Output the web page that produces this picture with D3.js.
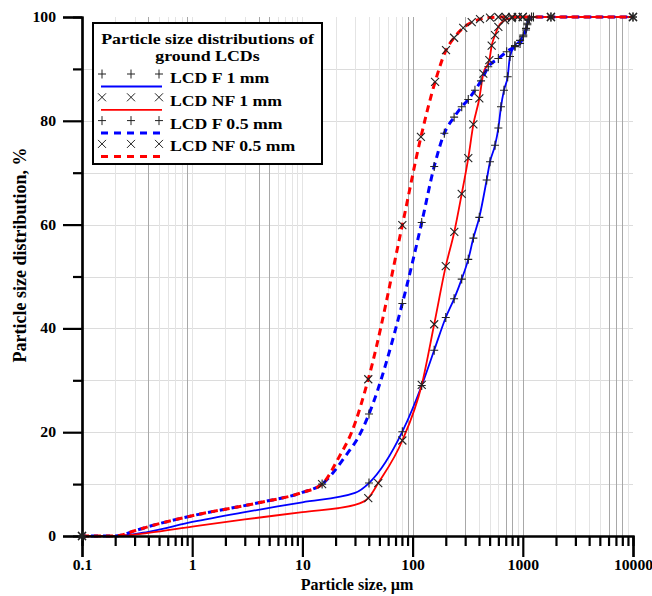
<!DOCTYPE html>
<html><head><meta charset="utf-8">
<script src="https://cdn.jsdelivr.net/npm/d3@7/dist/d3.min.js"></script>
<style>
body{margin:0;background:#fff}
svg{display:block}
text{font-family:"Liberation Serif","Times New Roman",serif;font-weight:bold;fill:#000}
</style>
</head><body>
<svg id="chart" width="652" height="596"></svg>
<script>
// ---------- data ----------
const xTickValues = [0.1, 1, 10, 100, 1000, 10000];
const xTickLabels = ["0.1", "1", "10", "100", "1000", "10000"];
const yTickValues = [0, 20, 40, 60, 80, 100];
const yMinorValues = [10, 30, 50, 70, 90];
const yGridValues = [10, 20, 30, 40, 50, 60, 70, 80, 90];
const darkGridValues = [0.4, 0.9, 4, 5, 90, 100, 300, 700, 800, 1000, 6000, 7000, 8000];

const seriesNames = ["LCD F 1 mm", "LCD NF 1 mm", "LCD F 0.5 mm", "LCD NF 0.5 mm"];
const seriesColors = ["#0000ff", "#ff0000", "#0000ff", "#ff0000"];
const seriesDashed = [false, false, true, true];
const seriesMarker = ["plus", "cross", "plus", "cross"];

// curve points: [particle size µm, cumulative %]
const curveF1 = [[0.1,0],[0.2,0],[0.4,0.8],[1,2.7],[3,4.6],[10,6.5],[30,8.3],[40.2,10.2],[80.7,20.1],[121,29.0],[157,35.8],[200,42.1],[238,45.7],[279,49.5],[320,53.3],[356,57.4],[403,61.4],[470,68.6],[504,72.1],[560,75.3],[600,78.6],[634,82.7],[675,85.9],[729,88.5],[765,92.4],[849,94.5],[944,95.5],[1010,96.5],[1070,97.8],[1100,98.8],[1150,99.6],[1250,100],[1800,100],[10000,100]];
const markF1 = [[0.1,0],[40.2,10.2],[80.7,20.1],[121,29.0],[157,35.8],[200,42.1],[238,45.7],[279,49.5],[320,53.3],[356,57.4],[403,61.4],[470,68.6],[504,72.1],[560,75.3],[600,78.6],[634,82.7],[675,85.9],[729,88.5],[765,92.4],[849,94.5],[944,95.5],[1010,96.5],[1070,97.8],[1100,98.8],[1150,99.6],[1250,100],[1800,100],[10000,100]];

const curveNF1 = [[0.1,0],[0.2,0],[0.4,0.6],[1,1.8],[3,3.2],[10,4.6],[30,6.0],[39.6,7.3],[48.8,10.2],[80.7,18.4],[121,29.1],[157,40.8],[200,52.0],[239,58.6],[279,65.9],[320,72.8],[356,79.3],[403,84.3],[438,89.1],[497,91.7],[522,94.5],[560,96.5],[600,98.1],[689,99.4],[793,99.8],[900,100],[1000,100],[1800,100],[10000,100]];
const markNF1 = [[0.1,0],[39.6,7.3],[48.8,10.2],[80.7,18.4],[121,29.1],[157,40.8],[200,52.0],[239,58.6],[279,65.9],[320,72.8],[356,79.3],[403,84.3],[438,89.1],[497,91.7],[522,94.5],[560,96.5],[600,98.1],[689,99.4],[793,99.8],[900,100],[1000,100],[1800,100],[10000,100]];

const curveF05 = [[0.1,0],[0.2,0],[0.3,1.0],[0.4,1.8],[1,3.9],[4,6.4],[10,8.4],[15.1,10],[24.4,15.3],[34,20],[40.2,23.5],[80.7,44.8],[121,60.4],[157,71.2],[194,77.6],[238,80.7],[279,82.7],[320,84.1],[368,85.9],[418,87.7],[486,90.4],[600,92.0],[714,93.3],[849,94.3],[944,94.9],[1010,96.2],[1070,97.5],[1100,98.5],[1120,99.4],[1200,100],[1800,100],[10000,100]];
const markF05 = [[0.1,0],[15.1,10],[40.2,23.5],[80.7,44.8],[121,60.4],[157,71.2],[194,77.6],[238,80.7],[279,82.7],[320,84.1],[368,85.9],[418,87.7],[486,90.4],[600,92.0],[714,93.3],[849,94.3],[944,94.9],[1010,96.2],[1070,97.5],[1100,98.5],[1120,99.4],[1200,100],[1800,100],[10000,100]];

const curveNF05 = [[0.1,0],[0.2,0],[0.3,1.0],[0.4,1.8],[1,3.9],[4,6.4],[10,8.4],[15.1,10],[21.6,15.3],[28,20],[39.6,30.2],[80.7,59.9],[119,76.9],[160,87.5],[201,93.6],[238,96],[288,97.9],[344,99],[409,99.6],[504,99.9],[600,100],[700,100],[800,100],[1000,100],[1800,100],[10000,100]];
const markNF05 = [[0.1,0],[15.1,10],[39.6,30.2],[80.7,59.9],[119,76.9],[160,87.5],[201,93.6],[238,96],[288,97.9],[344,99],[409,99.6],[504,99.9],[600,100],[700,100],[800,100],[1000,100],[1800,100],[10000,100]];

const curves = [curveF1, curveNF1, curveF05, curveNF05];
const marks = [markF1, markNF1, markF05, markNF05];

// ---------- chart ----------
const svg = d3.select("#chart");
const x = d3.scaleLog().domain([0.1, 10000]).range([82, 633]);
const y = d3.scaleLinear().domain([0, 100]).range([536, 17]);

const minorX = [];
for (let e = -1; e < 4; e++) for (let m = 2; m <= 9; m++) minorX.push(+(m * Math.pow(10, e)).toPrecision(3));

function stretch(sel, f) {
  sel.each(function () {
    const L = this.getComputedTextLength();
    this.setAttribute("textLength", (L * f).toFixed(1));
    this.setAttribute("lengthAdjust", "spacingAndGlyphs");
  });
}

// grid
const grid = svg.append("g");
grid.selectAll("line.h").data(yGridValues).join("line")
  .attr("x1", x(0.1)).attr("x2", x(10000))
  .attr("y1", d => Math.round(y(d)) + 0.5).attr("y2", d => Math.round(y(d)) + 0.5)
  .attr("stroke", "#dcdcdc").attr("stroke-width", 1);
grid.selectAll("line.v").data(minorX.concat([1, 10, 100, 1000])).join("line")
  .attr("x1", d => Math.round(x(d)) + 0.5).attr("x2", d => Math.round(x(d)) + 0.5)
  .attr("y1", y(0)).attr("y2", y(100))
  .attr("stroke", d => darkGridValues.includes(d) ? "#a8a8a8" : "#e4e4e4")
  .attr("stroke-width", 1);

// lines
const line = d3.line().x(d => x(d[0])).y(d => y(d[1])).curve(d3.curveMonotoneX);
curves.forEach((c, i) => {
  svg.append("path").datum(c)
    .attr("d", line)
    .attr("fill", "none")
    .attr("stroke", seriesColors[i])
    .attr("stroke-width", seriesDashed[i] ? 3 : 1.8)
    .attr("stroke-dasharray", seriesDashed[i] ? "7,5" : null)
    .attr("stroke-dashoffset", i === 2 ? 3 : 0);
});

// axes
svg.append("g").attr("transform", `translate(0,${y(0)})`)
  .call(d3.axisBottom(x).tickValues(minorX).tickSize(10).tickFormat(""));
const axXMajor = svg.append("g").attr("transform", `translate(0,${y(0)})`)
  .call(d3.axisBottom(x).tickValues(xTickValues).tickSize(21).tickPadding(3)
    .tickFormat((d, i) => xTickLabels[i]));
svg.append("g").attr("transform", `translate(${x(0.1)},0)`)
  .call(d3.axisLeft(y).tickValues(yMinorValues).tickSize(9).tickFormat(""));
const axY = svg.append("g").attr("transform", `translate(${x(0.1)},0)`)
  .call(d3.axisLeft(y).tickValues(yTickValues).tickSize(19).tickPadding(7).tickFormat(d3.format("d")));
svg.selectAll(".domain").attr("stroke", "#000").attr("stroke-width", 2.2);
svg.selectAll(".tick line").attr("stroke", "#000").attr("stroke-width", 2.2);
svg.selectAll(".tick text").attr("font-size", 14).attr("font-family", "Liberation Serif").attr("font-weight", "bold").attr("fill", "#000");
stretch(svg.selectAll(".tick text"), 1.12);

// markers
const markerPath = {
  plus: "M-4,0H4M0,-4.5V4.5",
  cross: "M-4,-4L4,4M-4,4L4,-4"
};
marks.forEach((m, i) => {
  svg.append("g").selectAll("path").data(m).join("path")
    .attr("transform", d => `translate(${x(d[0])},${y(d[1])})`)
    .attr("d", markerPath[seriesMarker[i]])
    .attr("stroke", "#222").attr("stroke-width", 1.1).attr("fill", "none");
});

// axis titles
svg.append("text").attr("x", 357).attr("y", 590).attr("text-anchor", "middle")
  .attr("font-size", 16).text("Particle size, µm");
svg.append("text").attr("transform", "translate(26,255) rotate(-90)").attr("text-anchor", "middle")
  .attr("font-size", 18).text("Particle size distribution, %");

// legend
const lg = svg.append("g");
lg.append("rect").attr("x", 93).attr("y", 23).attr("width", 229).attr("height", 141)
  .attr("fill", "#fff").attr("stroke", "#000").attr("stroke-width", 2);
const t1 = lg.append("text").attr("x", 207.5).attr("y", 44).attr("text-anchor", "middle").attr("font-size", 15)
  .text("Particle size distributions of");
const t2 = lg.append("text").attr("x", 207.5).attr("y", 61).attr("text-anchor", "middle").attr("font-size", 15)
  .text("ground LCDs");
stretch(t1, 1.19); stretch(t2, 1.19);
seriesNames.forEach((name, i) => {
  const my = 74 + i * 23.3, ly = 86.5 + i * 23.3;
  lg.append("line").attr("x1", 101).attr("x2", 162).attr("y1", ly).attr("y2", ly)
    .attr("stroke", seriesColors[i]).attr("stroke-width", seriesDashed[i] ? 3 : 1.8)
    .attr("stroke-dasharray", seriesDashed[i] ? "7,6" : null);
  [102, 131, 159].forEach(mx => {
    lg.append("path").attr("transform", `translate(${mx},${my})`)
      .attr("d", markerPath[seriesMarker[i]]).attr("stroke", "#222").attr("stroke-width", 1).attr("fill", "none");
  });
  const t = lg.append("text").attr("x", 170).attr("y", 83 + i * 22.8).attr("font-size", 15).text(name);
  stretch(t, 1.18);
});
</script>
</body></html>
